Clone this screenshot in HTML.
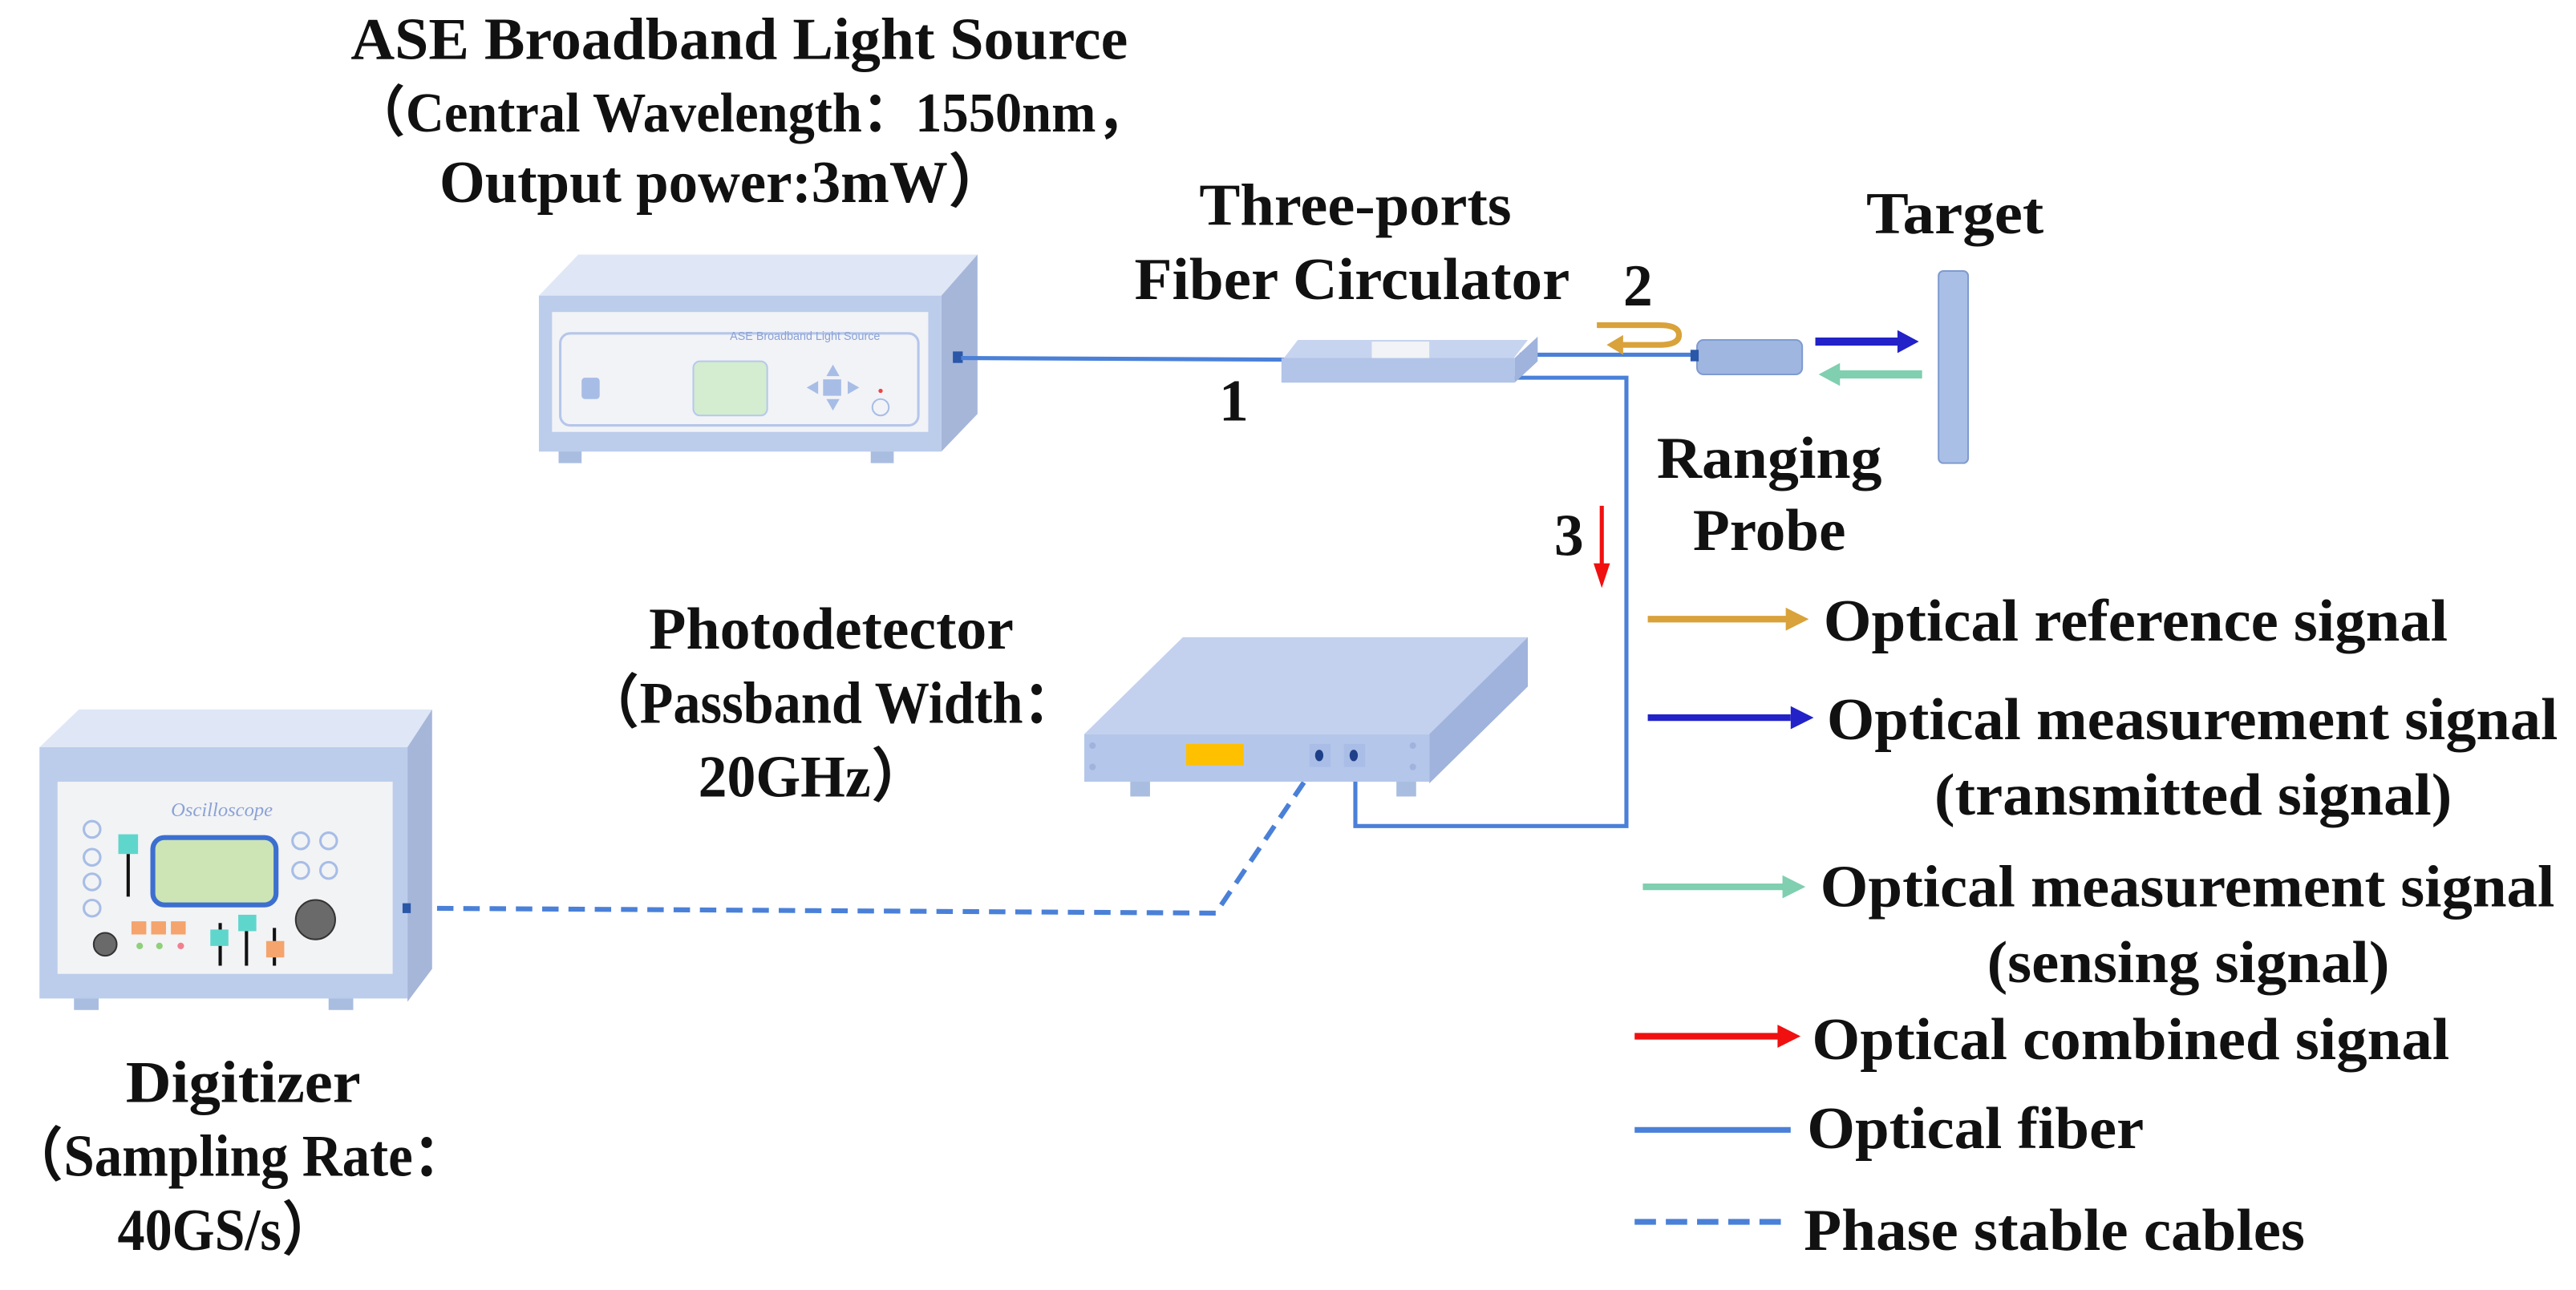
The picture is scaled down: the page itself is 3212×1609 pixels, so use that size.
<!DOCTYPE html>
<html><head><meta charset="utf-8"><style>html,body{margin:0;padding:0;background:#fff;overflow:hidden}svg{display:block}</style></head>
<body>
<svg width="3212" height="1609" viewBox="0 0 1568 785.5" xmlns="http://www.w3.org/2000/svg">
<g font-family="'Liberation Serif','Noto Serif CJK SC',serif" font-weight="bold" fill="#111" font-size="36">
<text x="450" y="36" text-anchor="middle" textLength="473" lengthAdjust="spacingAndGlyphs">ASE Broadband Light Source</text>
<text x="457" y="80" text-anchor="middle" font-size="34" textLength="485" lengthAdjust="spacingAndGlyphs" font-family="'Liberation Serif','Noto Sans CJK SC',serif">（Central Wavelength：1550nm，</text>
<text x="440" y="123" text-anchor="middle" textLength="345" lengthAdjust="spacingAndGlyphs" font-family="'Liberation Serif','Noto Sans CJK SC',serif">Output power:3mW）</text>
<text x="825" y="137" text-anchor="middle" textLength="190" lengthAdjust="spacingAndGlyphs">Three-ports</text>
<text x="823" y="182" text-anchor="middle" textLength="265" lengthAdjust="spacingAndGlyphs">Fiber Circulator</text>
<text x="1190" y="142" text-anchor="middle" textLength="108" lengthAdjust="spacingAndGlyphs">Target</text>
<text x="997" y="186" text-anchor="middle">2</text>
<text x="751" y="256" text-anchor="middle">1</text>
<text x="1077" y="291" text-anchor="middle" textLength="137" lengthAdjust="spacingAndGlyphs">Ranging</text>
<text x="1077" y="335" text-anchor="middle" textLength="93" lengthAdjust="spacingAndGlyphs">Probe</text>
<text x="955" y="338" text-anchor="middle">3</text>
<text x="506" y="395" text-anchor="middle" textLength="222" lengthAdjust="spacingAndGlyphs">Photodetector</text>
<text x="506" y="440" text-anchor="middle" textLength="300" lengthAdjust="spacingAndGlyphs" font-family="'Liberation Serif','Noto Sans CJK SC',serif">（Passband Width：</text>
<text x="495" y="485" text-anchor="middle" textLength="140" lengthAdjust="spacingAndGlyphs" font-family="'Liberation Serif','Noto Sans CJK SC',serif">20GHz）</text>
<text x="148" y="671" text-anchor="middle" textLength="143" lengthAdjust="spacingAndGlyphs">Digitizer</text>
<text x="145" y="716" text-anchor="middle" textLength="280" lengthAdjust="spacingAndGlyphs" font-family="'Liberation Serif','Noto Sans CJK SC',serif">（Sampling Rate：</text>
<text x="138" y="761" text-anchor="middle" textLength="133" lengthAdjust="spacingAndGlyphs" font-family="'Liberation Serif','Noto Sans CJK SC',serif">40GS/s）</text>
<text x="1110" y="390" textLength="380" lengthAdjust="spacingAndGlyphs">Optical reference signal</text>
<text x="1112" y="450" textLength="445" lengthAdjust="spacingAndGlyphs">Optical measurement signal</text>
<text x="1335" y="496" text-anchor="middle" textLength="315" lengthAdjust="spacingAndGlyphs">(transmitted signal)</text>
<text x="1108" y="552" textLength="447" lengthAdjust="spacingAndGlyphs">Optical measurement signal</text>
<text x="1332" y="598" text-anchor="middle" textLength="245" lengthAdjust="spacingAndGlyphs">(sensing signal)</text>
<text x="1103" y="645" textLength="388" lengthAdjust="spacingAndGlyphs">Optical combined signal</text>
<text x="1100" y="699" textLength="205" lengthAdjust="spacingAndGlyphs">Optical fiber</text>
<text x="1098" y="761" textLength="305" lengthAdjust="spacingAndGlyphs">Phase stable cables</text>
</g>

<!-- ASE source -->
<g>
<rect x="340" y="268" width="14" height="14" fill="#a9bde0"/><rect x="530" y="268" width="14" height="14" fill="#a9bde0"/>
<polygon points="328,180 352,155 595,155 573,180" fill="#dfe7f6"/>
<polygon points="573,180 595,155 595,252 573,275" fill="#a6b6d9"/>
<rect x="328" y="180" width="245" height="95" fill="#bccdeb"/>
<rect x="336" y="190" width="229" height="73" fill="#f2f3f7"/>
<rect x="341" y="203" width="218" height="56" rx="6" fill="none" stroke="#b5c6ea" stroke-width="1.5"/>
<text x="490" y="207" font-family="'Liberation Sans',sans-serif" font-size="7" fill="#8aa2d6" text-anchor="middle">ASE Broadband Light Source</text>
<rect x="354" y="230" width="11" height="13" rx="2" fill="#a7bde6"/>
<rect x="422" y="220" width="45" height="33" rx="4" fill="#d4ecd0" stroke="#b7c8ea"/>
<polygon points="507,222 511,229 503,229" fill="#a7bde6"/><polygon points="507,250 511,243 503,243" fill="#a7bde6"/>
<polygon points="491,236 498,232 498,240" fill="#a7bde6"/><polygon points="523,236 516,232 516,240" fill="#a7bde6"/>
<rect x="501" y="231" width="11" height="10" fill="#a7bde6"/>
<circle cx="536" cy="248" r="5" fill="none" stroke="#a7bde6"/><circle cx="536" cy="238" r="1.3" fill="#e44"/>
<rect x="580" y="214" width="6" height="7" fill="#2b57a8"/>
</g>
<!-- fibers -->
<g stroke="#4a80d8" stroke-width="2.5" fill="none">
<line x1="585" y1="218" x2="785" y2="219"/>
<line x1="925" y1="216" x2="1033" y2="216"/>
<polyline points="922,230 990,230 990,503 825,503 825,467"/>
</g>
<g stroke="#4a80d8" stroke-width="3" stroke-dasharray="10,6" fill="none">
<polyline points="250,553 740,556 800,467"/>
</g>
<!-- circulator -->
<polygon points="790,207 930,207 920,220 780,220" fill="#c6d4ef"/>
<rect x="780" y="218" width="142" height="15" fill="#b2c4e8"/>
<polygon points="922,218 936,205 936,220 922,233" fill="#9fb3dc"/>
<rect x="835" y="208" width="35" height="10" fill="#f2f3f6"/>
<!-- orange U arrow -->
<path d="M972,198 L1010,198 Q1022,198 1022,204 Q1022,210 1010,210 L985,210" stroke="#d9a23a" stroke-width="3.5" fill="none"/>
<polygon points="978,210 988,204 988,216" fill="#d9a23a"/>
<!-- probe -->
<rect x="1033" y="207" width="64" height="21" rx="4" fill="#9fb6e0" stroke="#7f9bd0"/>
<rect x="1029" y="213" width="5" height="7" fill="#2b57a8"/>
<!-- target -->
<rect x="1180" y="165" width="18" height="117" rx="3" fill="#a9bfe6" stroke="#7f9bd0"/>
<!-- blue/green arrows -->
<line x1="1105" y1="208" x2="1158" y2="208" stroke="#2222c8" stroke-width="5"/><polygon points="1168,208 1155,201 1155,215" fill="#2222c8"/>
<line x1="1118" y1="228" x2="1170" y2="228" stroke="#7fcfb0" stroke-width="5"/><polygon points="1107,228 1120,221 1120,235" fill="#7fcfb0"/>
<!-- red 3 arrow -->
<line x1="975" y1="308" x2="975" y2="345" stroke="#f01010" stroke-width="2.5"/><polygon points="975,358 970,343 980,343" fill="#f01010"/>
<!-- photodetector -->
<rect x="688" y="472" width="12" height="13" fill="#a9bde0"/><rect x="850" y="472" width="12" height="13" fill="#a9bde0"/>
<polygon points="660,447 720,388 930,388 870,447" fill="#c3d1ee"/>
<polygon points="870,447 930,388 930,418 870,477" fill="#9fb3dc"/>
<rect x="660" y="447" width="210" height="29" fill="#b4c6ea"/>
<circle cx="665" cy="454" r="2" fill="#9fb3dc"/><circle cx="665" cy="467" r="2" fill="#9fb3dc"/>
<circle cx="860" cy="454" r="2" fill="#9fb3dc"/><circle cx="860" cy="467" r="2" fill="#9fb3dc"/>
<rect x="722" y="453" width="35" height="13" fill="#ffc000"/>
<rect x="797" y="453" width="13" height="14" fill="#a9bde6"/><rect x="818" y="453" width="13" height="14" fill="#a9bde6"/>
<ellipse cx="803" cy="460" rx="2.5" ry="3.5" fill="#1f3f88"/><ellipse cx="824" cy="460" rx="2.5" ry="3.5" fill="#1f3f88"/>
<!-- digitizer -->
<g>
<rect x="45" y="600" width="15" height="15" fill="#a9bde0"/><rect x="200" y="600" width="15" height="15" fill="#a9bde0"/>
<polygon points="24,455 48,432 263,432 248,455" fill="#dfe7f6"/>
<polygon points="248,455 263,432 263,590 248,610" fill="#a6b6d9"/>
<rect x="24" y="455" width="224" height="153" fill="#bccdeb"/>
<rect x="35" y="476" width="204" height="117" fill="#f2f3f5"/>
<text x="135" y="497" font-family="'Liberation Serif',serif" font-style="italic" font-size="12" fill="#8aa2d6" text-anchor="middle">Oscilloscope</text>
<g fill="none" stroke="#a7bde6" stroke-width="1.5">
<circle cx="56" cy="505" r="5"/><circle cx="56" cy="522" r="5"/><circle cx="56" cy="537" r="5"/><circle cx="56" cy="553" r="5"/>
<circle cx="183" cy="512" r="5"/><circle cx="200" cy="512" r="5"/><circle cx="183" cy="530" r="5"/><circle cx="200" cy="530" r="5"/>
</g>
<rect x="93" y="510" width="75" height="41" rx="7" fill="#cde4b4" stroke="#3c6fd0" stroke-width="3"/>
<line x1="78" y1="520" x2="78" y2="546" stroke="#111" stroke-width="2"/><rect x="72" y="508" width="12" height="12" fill="#5fd6cc"/>
<rect x="80" y="561" width="9" height="8" fill="#f4a46c"/><rect x="92" y="561" width="9" height="8" fill="#f4a46c"/><rect x="104" y="561" width="9" height="8" fill="#f4a46c"/>
<circle cx="85" cy="576" r="2" fill="#8fd07a"/><circle cx="97" cy="576" r="2" fill="#8fd07a"/><circle cx="110" cy="576" r="2" fill="#f08090"/>
<line x1="134" y1="562" x2="134" y2="588" stroke="#111" stroke-width="2"/><rect x="128" y="566" width="11" height="10" fill="#5fd6cc"/>
<line x1="150" y1="565" x2="150" y2="588" stroke="#111" stroke-width="2"/><rect x="145" y="557" width="11" height="10" fill="#5fd6cc"/>
<line x1="167" y1="565" x2="167" y2="588" stroke="#111" stroke-width="2"/><rect x="162" y="573" width="11" height="10" fill="#f4a46c"/>
<circle cx="64" cy="575" r="7" fill="#6a6a6a" stroke="#333"/><circle cx="192" cy="560" r="12" fill="#6a6a6a" stroke="#333"/>
<rect x="245" y="550" width="5" height="6" fill="#2b57a8"/>
</g>
<!-- legend -->
<line x1="1003" y1="377" x2="1088" y2="377" stroke="#d9a23a" stroke-width="4"/><polygon points="1101,377 1087,370 1087,384" fill="#d9a23a"/>
<line x1="1003" y1="437" x2="1090" y2="437" stroke="#2222c8" stroke-width="4"/><polygon points="1104,437 1090,430 1090,444" fill="#2222c8"/>
<line x1="1000" y1="540" x2="1086" y2="540" stroke="#7fcfb0" stroke-width="4"/><polygon points="1099,540 1085,533 1085,547" fill="#7fcfb0"/>
<line x1="995" y1="631" x2="1083" y2="631" stroke="#f01010" stroke-width="4"/><polygon points="1096,631 1082,624 1082,638" fill="#f01010"/>
<line x1="995" y1="688" x2="1090" y2="688" stroke="#4a80d8" stroke-width="3.5"/>
<line x1="995" y1="744" x2="1090" y2="744" stroke="#4a80d8" stroke-width="3.5" stroke-dasharray="13,6"/>
</svg>
</body></html>
